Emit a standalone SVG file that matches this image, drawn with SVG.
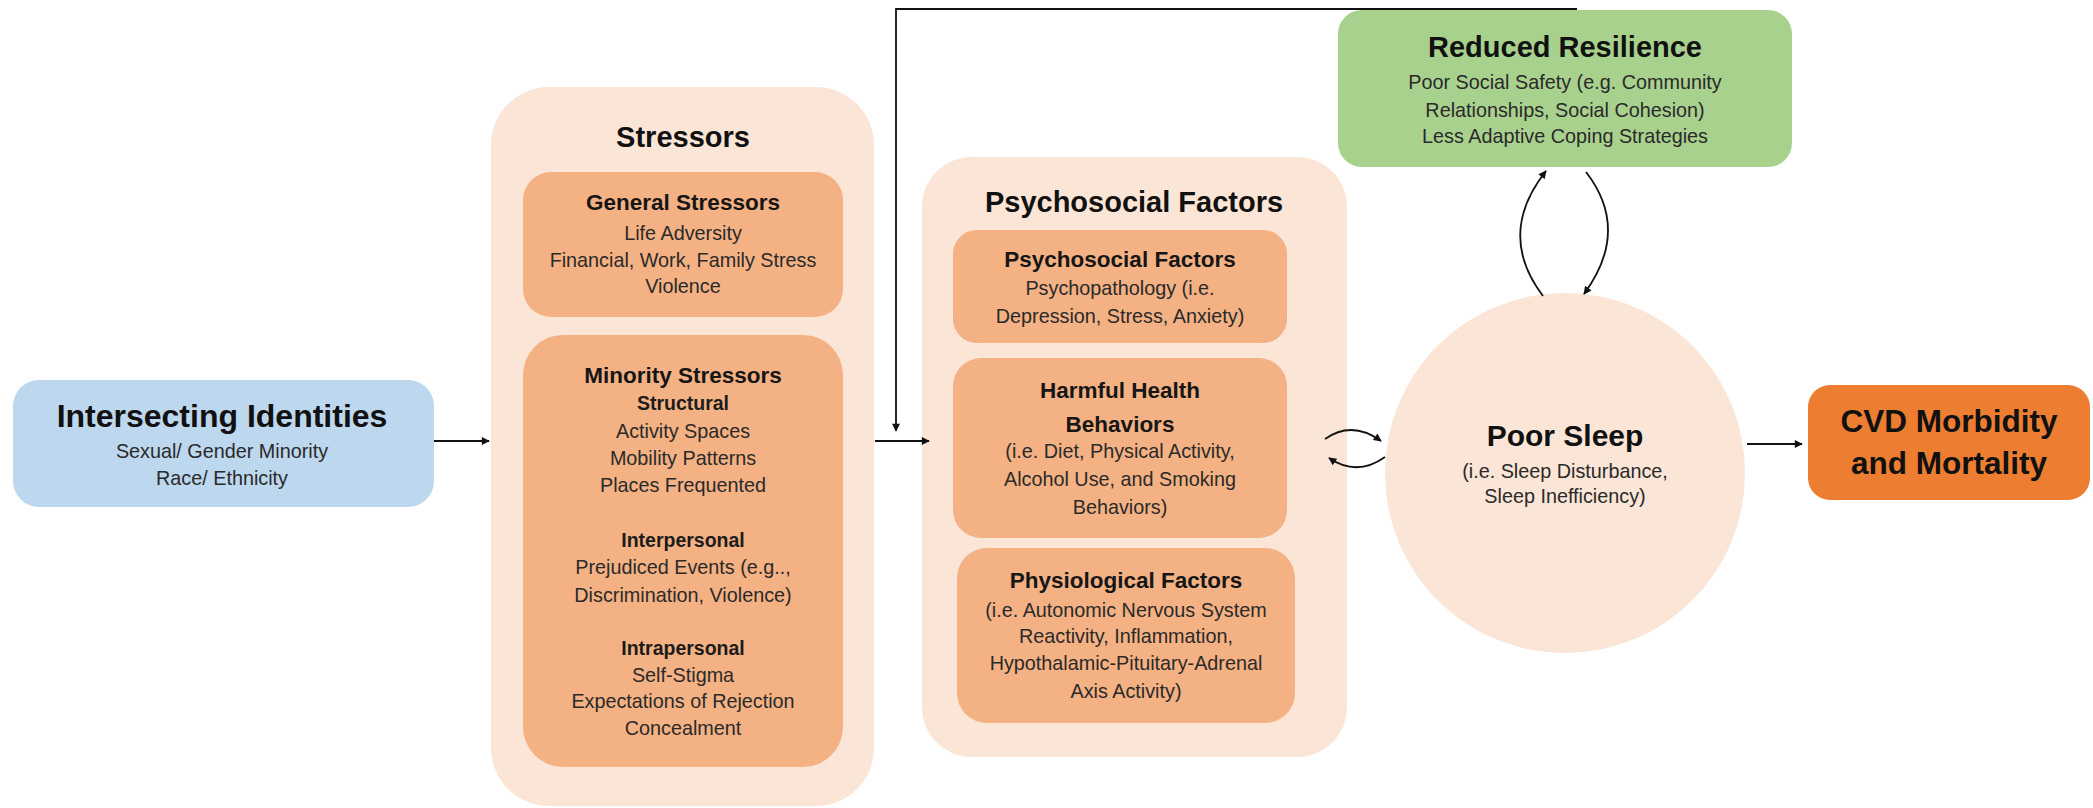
<svg xmlns="http://www.w3.org/2000/svg" width="2093" height="808" viewBox="0 0 2093 808">
  <style>
    text { font-family: "Liberation Sans", Arial, sans-serif; text-anchor: middle; }
    .h1 { font-size: 29px; font-weight: bold; fill: #111; }
    .h2 { font-size: 22.5px; font-weight: bold; fill: #161616; }
    .h3 { font-size: 19.5px; font-weight: bold; fill: #1c1c1c; }
    .b { font-size: 19.8px; fill: #2a2a2a; }
    .big { font-size: 31.5px; font-weight: bold; fill: #111; }
    .outer { fill: #FBE5D6; }
    .inner { fill: #F4B183; }
    .link { fill: none; stroke: #111; stroke-width: 1.8; }
  </style>
  <defs>
    <marker id="arrow" viewBox="0 0 10 10" refX="9" refY="5" markerWidth="10" markerHeight="8" markerUnits="userSpaceOnUse" orient="auto">
      <path d="M0,0 L10,5 L0,10 Z" fill="#111"/>
    </marker>
  </defs>

  <rect width="2093" height="808" fill="#ffffff"/>

  <!-- Intersecting Identities -->
  <g id="intersecting-identities">
    <rect x="13" y="380" width="421" height="127" rx="26" fill="#BDD7EE"/>
    <text x="222" y="427" style="font-size:32px;font-weight:bold;fill:#111">Intersecting Identities</text>
    <text x="222" y="458" class="b">Sexual/ Gender Minority</text>
    <text x="222" y="485" class="b">Race/ Ethnicity</text>
  </g>

  <!-- Stressors column -->
  <g id="stressors">
    <rect class="outer" x="491" y="87" width="383" height="719" rx="58"/>
    <text x="683" y="147" class="h1">Stressors</text>
  </g>
  <g id="general-stressors">
    <rect class="inner" x="523" y="172" width="320" height="145" rx="28"/>
    <text x="683" y="210" class="h2">General Stressors</text>
    <text x="683" y="240" class="b">Life Adversity</text>
    <text x="683" y="267" class="b">Financial, Work, Family Stress</text>
    <text x="683" y="293" class="b">Violence</text>
  </g>
  <g id="minority-stressors">
    <rect class="inner" x="523" y="335" width="320" height="432" rx="40"/>
    <text x="683" y="383" class="h2">Minority Stressors</text>
    <text x="683" y="410" class="h3">Structural</text>
    <text x="683" y="438" class="b">Activity Spaces</text>
    <text x="683" y="465" class="b">Mobility Patterns</text>
    <text x="683" y="492" class="b">Places Frequented</text>
    <text x="683" y="547" class="h3">Interpersonal</text>
    <text x="683" y="574" class="b">Prejudiced Events (e.g..,</text>
    <text x="683" y="602" class="b">Discrimination, Violence)</text>
    <text x="683" y="655" class="h3">Intrapersonal</text>
    <text x="683" y="682" class="b">Self-Stigma</text>
    <text x="683" y="708" class="b">Expectations of Rejection</text>
    <text x="683" y="735" class="b">Concealment</text>
  </g>

  <!-- Psychosocial Factors column -->
  <g id="psychosocial-group">
    <rect class="outer" x="922" y="157" width="425" height="600" rx="50"/>
    <text x="1134" y="212" class="h1">Psychosocial Factors</text>
  </g>
  <g id="psychosocial-factors">
    <rect class="inner" x="953" y="230" width="334" height="113" rx="24"/>
    <text x="1120" y="267" class="h2">Psychosocial Factors</text>
    <text x="1120" y="295" class="b">Psychopathology (i.e.</text>
    <text x="1120" y="323" class="b">Depression, Stress, Anxiety)</text>
  </g>
  <g id="harmful-health-behaviors">
    <rect class="inner" x="953" y="358" width="334" height="180" rx="28"/>
    <text x="1120" y="398" class="h2">Harmful Health</text>
    <text x="1120" y="432" class="h2">Behaviors</text>
    <text x="1120" y="458" class="b">(i.e. Diet, Physical Activity,</text>
    <text x="1120" y="486" class="b">Alcohol Use, and Smoking</text>
    <text x="1120" y="514" class="b">Behaviors)</text>
  </g>
  <g id="physiological-factors">
    <rect class="inner" x="957" y="548" width="338" height="175" rx="30"/>
    <text x="1126" y="588" class="h2">Physiological Factors</text>
    <text x="1126" y="617" class="b">(i.e. Autonomic Nervous System</text>
    <text x="1126" y="643" class="b">Reactivity, Inflammation,</text>
    <text x="1126" y="670" class="b">Hypothalamic-Pituitary-Adrenal</text>
    <text x="1126" y="698" class="b">Axis Activity)</text>
  </g>

  <!-- Reduced Resilience -->
  <g id="reduced-resilience">
    <rect x="1338" y="10" width="454" height="157" rx="24" fill="#A9D18E"/>
    <text x="1565" y="57" class="h1">Reduced Resilience</text>
    <text x="1565" y="89" class="b">Poor Social Safety (e.g. Community</text>
    <text x="1565" y="117" class="b">Relationships, Social Cohesion)</text>
    <text x="1565" y="143" class="b">Less Adaptive Coping Strategies</text>
  </g>

  <!-- Poor Sleep -->
  <g id="poor-sleep">
    <circle cx="1565" cy="473" r="180" fill="#FBE5D6"/>
    <text x="1565" y="446" style="font-size:30px;font-weight:bold;fill:#111">Poor Sleep</text>
    <text x="1565" y="478" class="b">(i.e. Sleep Disturbance,</text>
    <text x="1565" y="503" class="b">Sleep Inefficiency)</text>
  </g>

  <!-- CVD outcome -->
  <g id="cvd-outcome">
    <rect x="1808" y="385" width="282" height="115" rx="22" fill="#ED7D31"/>
    <text x="1949" y="432" class="big">CVD Morbidity</text>
    <text x="1949" y="474" class="big">and Mortality</text>
  </g>

  <!-- Connectors -->
  <g id="connectors">
    <path class="link" d="M434,441 H489" marker-end="url(#arrow)"/>
    <path class="link" d="M875,441 H929" marker-end="url(#arrow)"/>
    <path class="link" d="M1577,9 H896 V431" marker-end="url(#arrow)"/>
    <path class="link" d="M1325,439 Q1352,420 1381,441" marker-end="url(#arrow)"/>
    <path class="link" d="M1385,457 Q1357,477 1329,458" marker-end="url(#arrow)"/>
    <path class="link" d="M1543,296 Q1496,234 1546,171" marker-end="url(#arrow)"/>
    <path class="link" d="M1586,172 Q1631,230 1584,294" marker-end="url(#arrow)"/>
    <path class="link" d="M1747,444 H1802" marker-end="url(#arrow)"/>
  </g>
</svg>
